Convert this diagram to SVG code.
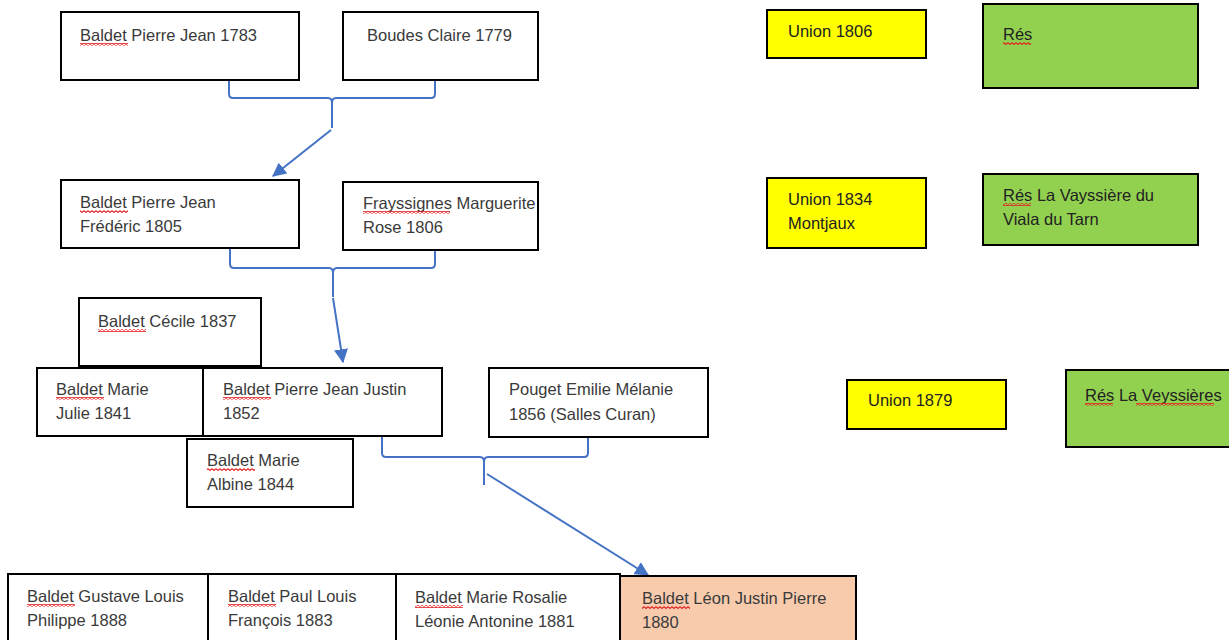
<svg xmlns="http://www.w3.org/2000/svg" width="1229" height="640" viewBox="0 0 1229 640">
<style>
.box{fill:#fff;stroke:#000;stroke-width:2}
.uni{fill:#FFFF00;stroke:#000;stroke-width:2}
.res{fill:#92D050;stroke:#000;stroke-width:2}
.peach{fill:#F8CBAD;stroke:#000;stroke-width:2}
text{font-family:"Liberation Sans",Arial,sans-serif;font-size:16.5px;fill:#3a3a3a}
.dk{fill:#222}
.brace{fill:none;stroke:#4472C4;stroke-width:2}
.arr{fill:none;stroke:#4472C4;stroke-width:2}
.sq{fill:url(#sq)}
</style>
<defs>
<pattern id="sq" width="4" height="3" patternUnits="userSpaceOnUse">
<path d="M0,0.6 L2,2.4 L4,0.6" fill="none" stroke="#E02020" stroke-width="1.2"/>
</pattern>
<marker id="ah" viewBox="0 0 12 12" refX="11" refY="6" markerWidth="14" markerHeight="14" markerUnits="userSpaceOnUse" orient="auto">
<path d="M0,0 L12,6 L0,12 Z" fill="#4472C4"/>
</marker>
</defs>
<rect width="1229" height="640" fill="#fff"/>

<g id="connectors">
<path class="brace" d="M229,80 V94 Q229,98 233,98 H328 Q332,98 332,103 Q332,98 336,98 H431 Q435,98 435,94 V80"/>
<path class="brace" d="M332,103 V128"/>
<path class="arr" d="M331,130 L273,176" marker-end="url(#ah)"/>
<path class="brace" d="M230,248 V264 Q230,268 234,268 H329 Q333,268 333,273 Q333,268 337,268 H431 Q435,268 435,264 V250"/>
<path class="brace" d="M333,273 V297"/>
<path class="arr" d="M333,298 L343,362" marker-end="url(#ah)"/>
<path class="brace" d="M382,437 V453 Q382,457 386,457 H480 Q484,457 484,462 Q484,457 488,457 H584 Q588,457 588,453 V437"/>
<path class="brace" d="M484,462 V485"/>
<path class="arr" d="M487,474 L648,575" marker-end="url(#ah)"/>
</g>

<g id="n-baldet-pierre-jean-1783">
<rect class="box" x="61" y="12" width="238" height="68"/>
<text x="80" y="41">Baldet Pierre Jean 1783</text>
<rect class="sq" x="80" y="43" width="48" height="3"/>
</g>
<g id="n-boudes-claire">
<rect class="box" x="343" y="12" width="195" height="68"/>
<text x="367" y="41">Boudes Claire 1779</text>
</g>
<g id="n-baldet-pierre-jean-frederic">
<rect class="box" x="61" y="180" width="238" height="68"/>
<text x="80" y="208">Baldet Pierre Jean</text>
<text x="80" y="232">Frédéric 1805</text>
<rect class="sq" x="80" y="210" width="48" height="3"/>
</g>
<g id="n-frayssignes">
<rect class="box" x="343" y="182" width="195" height="68"/>
<text x="363" y="209">Frayssignes Marguerite</text>
<text x="363" y="233">Rose 1806</text>
<rect class="sq" x="363" y="211" width="87" height="3"/>
</g>
<g id="n-cecile">
<rect class="box" x="79" y="298" width="182" height="68"/>
<text x="98" y="327">Baldet Cécile 1837</text>
<rect class="sq" x="98" y="329" width="48" height="3"/>
</g>
<g id="n-marie-julie">
<rect class="box" x="37" y="368" width="166" height="68"/>
<text x="56" y="395">Baldet Marie</text>
<text x="56" y="419">Julie 1841</text>
<rect class="sq" x="56" y="397" width="48" height="3"/>
</g>
<g id="n-pierre-jean-justin">
<rect class="box" x="203" y="368" width="239" height="68"/>
<text x="223" y="395">Baldet Pierre Jean Justin</text>
<text x="223" y="419">1852</text>
<rect class="sq" x="223" y="397" width="48" height="3"/>
</g>
<g id="n-marie-albine">
<rect class="box" x="187" y="439" width="166" height="68"/>
<text x="207" y="466">Baldet Marie</text>
<text x="207" y="490">Albine 1844</text>
<rect class="sq" x="207" y="468" width="48" height="3"/>
</g>
<g id="n-pouget">
<rect class="box" x="489" y="368" width="219" height="69"/>
<text x="509" y="395">Pouget Emilie Mélanie</text>
<text x="509" y="420">1856 (Salles Curan)</text>
</g>

<g id="n-gustave">
<rect class="box" x="8" y="574" width="200" height="72"/>
<text x="27" y="602">Baldet Gustave Louis</text>
<text x="27" y="626">Philippe 1888</text>
<rect class="sq" x="27" y="604" width="48" height="3"/>
</g>
<g id="n-paul">
<rect class="box" x="208" y="574" width="188" height="72"/>
<text x="228" y="602">Baldet Paul Louis</text>
<text x="228" y="626">François 1883</text>
<rect class="sq" x="228" y="604" width="48" height="3"/>
</g>
<g id="n-marie-rosalie">
<rect class="box" x="396" y="574" width="224" height="72"/>
<text x="415" y="603">Baldet Marie Rosalie</text>
<text x="415" y="627">Léonie Antonine 1881</text>
<rect class="sq" x="415" y="605" width="48" height="3"/>
</g>
<g id="n-leon">
<rect class="peach" x="620" y="576" width="236" height="70"/>
<text x="642" y="604">Baldet Léon Justin Pierre</text>
<text x="642" y="628">1880</text>
<rect class="sq" x="642" y="606" width="48" height="3"/>
</g>

<g id="n-union-1806">
<rect class="uni" x="767" y="10" width="159" height="48"/>
<text class="dk" x="788" y="37">Union 1806</text>
</g>
<g id="n-res-1">
<rect class="res" x="983" y="4" width="215" height="84"/>
<text class="dk" x="1003" y="40">Rés</text>
<rect class="sq" x="1003" y="42" width="28" height="3"/>
</g>
<g id="n-union-1834">
<rect class="uni" x="767" y="178" width="159" height="70"/>
<text class="dk" x="788" y="205">Union 1834</text>
<text class="dk" x="788" y="229">Montjaux</text>
</g>
<g id="n-res-2">
<rect class="res" x="983" y="174" width="215" height="71"/>
<text class="dk" x="1003" y="201">Rés La Vayssière du</text>
<text class="dk" x="1003" y="225">Viala du Tarn</text>
<rect class="sq" x="1003" y="203" width="28" height="3"/>
</g>
<g id="n-union-1879">
<rect class="uni" x="847" y="380" width="159" height="49"/>
<text class="dk" x="868" y="406">Union 1879</text>
</g>
<g id="n-res-3">
<rect class="res" x="1066" y="370" width="170" height="77"/>
<text class="dk" x="1085" y="401">Rés La Veyssières</text>
<rect class="sq" x="1085" y="403" width="28" height="3"/>
<rect class="sq" x="1136" y="403" width="78" height="3"/>
</g>
</svg>
